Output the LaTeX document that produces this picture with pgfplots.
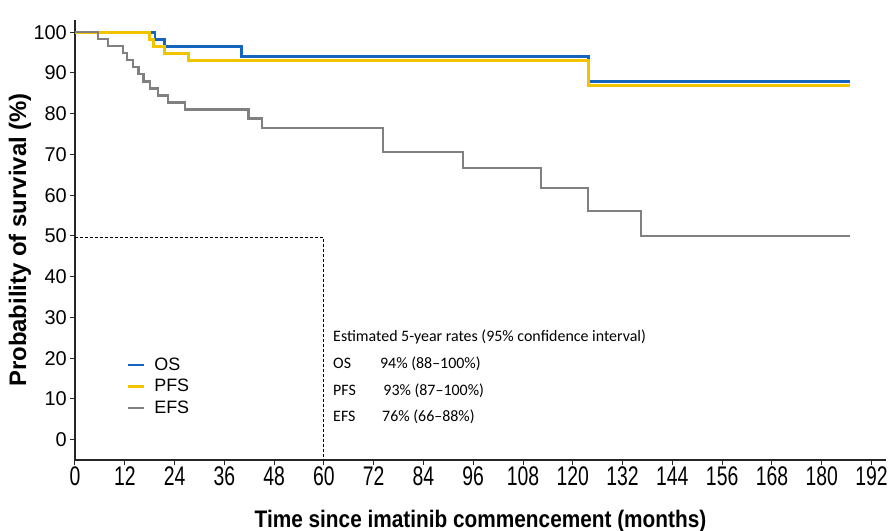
\documentclass[border=0pt]{standalone}
\usepackage{pgfplots}
\pgfplotsset{compat=1.18}
\usepackage{fontspec}
\setmainfont{Liberation Sans}
\newfontfamily\narrowfont[FakeStretch=0.72]{Liberation Sans}
\newfontfamily\labelfont[FakeStretch=0.87]{Liberation Sans}
\newfontfamily\calibri{Carlito}
\definecolor{osblue}{RGB}{21,101,192}
\definecolor{pfsyellow}{RGB}{242,196,0}
\definecolor{efsgray}{RGB}{128,128,128}
\begin{document}
\begin{tikzpicture}
\useasboundingbox (-75bp,-71bp) rectangle (813bp,460bp);
\begin{axis}[
  scale only axis, width=811bp, height=440bp,
  xmin=0, xmax=195.5, ymin=-5, ymax=103,
  axis x line=bottom, axis y line=left,
  axis line style={-, line width=1.3bp, black!85},
  xtick={0,12,...,192}, ytick={0,10,...,100},
  tick align=outside, major tick length=5bp,
  tick style={line width=1bp, black!85},
  /pgf/number format/assume math mode=true,
  xticklabel style={font=\narrowfont\fontsize{27}{27}\selectfont, inner sep=2bp},
  yticklabel style={font=\fontsize{20}{20}\selectfont, inner sep=3bp},
  xlabel={Time since imatinib commencement (months)},
  ylabel={Probability of survival (\%)},
  every axis x label/.style={at={(axis description cs:0.5,-0.139)}, anchor=center, font=\labelfont\bfseries\fontsize{24}{24}\selectfont},
  every axis y label/.style={at={(axis description cs:-0.068,0.5)}, anchor=center, rotate=90, font=\bfseries\fontsize{24}{24}\selectfont},
  legend style={at={(axis cs:11.6,21.0)}, anchor=north west, draw=none, fill=none,
    font=\fontsize{18}{18}\selectfont, row sep=4.5bp, nodes={inner sep=1.5bp},
    /tikz/every odd column/.append style={column sep=8bp}},
  legend cell align=left,
  legend image code/.code={\draw[#1, line width=2.5bp] (0bp,0bp) -- (16bp,0bp);},
]
\addplot[black, line width=1bp, dash pattern=on 3bp off 2bp, forget plot] coordinates {(0,49.6) (60,49.6) (60,-5)};
\addplot[osblue, line width=2.8bp, const plot] coordinates {
(0,100) (19.3,98.28) (21.5,96.55) (40.2,94.13) (123.7,87.85) (186.7,87.85)};
\addlegendentry{OS}
\addplot[pfsyellow, line width=2.8bp, const plot] coordinates {
(0,100) (17.9,98.28) (19.0,96.55) (21.5,94.83) (27.3,93.10) (123.7,86.9) (186.7,86.9)};
\addlegendentry{PFS}
\addplot[efsgray, line width=2.3bp, const plot] coordinates {
(0,100) (5.5,98.28) (8.0,96.55) (11.5,94.83) (12.5,93.10) (14.0,91.38) (15.3,89.66)
(16.5,87.93) (18.0,86.21) (20.0,84.48) (22.5,82.76) (26.5,81.03) (41.8,78.8) (45.0,76.5)
(74.3,70.6) (93.6,66.7) (112.4,61.8) (123.7,56.2) (136.5,50.0) (186.7,50.0)};
\addlegendentry{EFS}
\node[anchor=west, inner sep=0pt, font=\calibri\fontsize{16}{16}\selectfont] at (axis cs:62.2,25.2) {Estimated 5-year rates (95\% confidence interval)};
\node[anchor=west, inner sep=0pt, font=\calibri\fontsize{16}{16}\selectfont] at (axis cs:62.2,18.6) {OS};
\node[anchor=west, inner sep=0pt, font=\calibri\fontsize{16}{16}\selectfont] at (axis cs:73.5,18.6) {94\% (88–100\%)};
\node[anchor=west, inner sep=0pt, font=\calibri\fontsize{16}{16}\selectfont] at (axis cs:62.2,12.1) {PFS};
\node[anchor=west, inner sep=0pt, font=\calibri\fontsize{16}{16}\selectfont] at (axis cs:74.3,12.1) {93\% (87–100\%)};
\node[anchor=west, inner sep=0pt, font=\calibri\fontsize{16}{16}\selectfont] at (axis cs:62.2,5.6) {EFS};
\node[anchor=west, inner sep=0pt, font=\calibri\fontsize{16}{16}\selectfont] at (axis cs:74.0,5.6) {76\% (66–88\%)};
\end{axis}
\end{tikzpicture}
\end{document}
